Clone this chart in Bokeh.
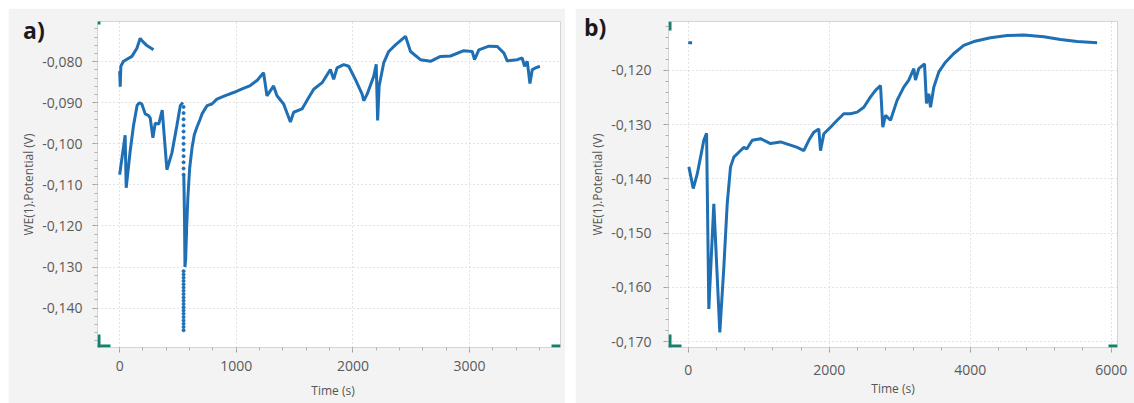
from bokeh.plotting import figure
from bokeh.layouts import row, column
from bokeh.models import SingleIntervalTicker, CustomJSTickFormatter, BoxAnnotation, Div
from bokeh.embed import file_html
from bokeh.resources import INLINE

# ---------------- data: panel a ----------------
a1_t = [0, 5, 10, 33, 105, 148, 176, 199, 227, 247, 290]
a1_v = [-0.0823, -0.0861, -0.0811, -0.0799, -0.0787, -0.0767, -0.0743, -0.0751, -0.0759, -0.0763, -0.0771]

a2_t = [0, 47, 56, 90, 119, 150, 170, 190, 219, 247, 262, 285, 305, 335, 365, 405, 448, 491, 520, 542]
a2_v = [-0.1075, -0.0979, -0.1107, -0.1018, -0.0955, -0.0906, -0.0900, -0.0903, -0.0927, -0.0931,
        -0.0937, -0.0985, -0.0950, -0.0952, -0.0918, -0.1063, -0.1022, -0.0955, -0.0907, -0.0899]

a_drop_t = [548] * 31
a_drop_v = [-0.0910, -0.0925, -0.0940, -0.0955, -0.0970, -0.0985, -0.1000, -0.1015, -0.1030, -0.1045,
            -0.1060, -0.1075, -0.1310, -0.1318, -0.1326, -0.1334, -0.1342, -0.1350, -0.1358, -0.1366,
            -0.1374, -0.1382, -0.1390, -0.1398, -0.1406, -0.1414, -0.1422, -0.1430, -0.1438, -0.1446, -0.1454]

a3_t = [550, 556, 560, 566, 575, 585, 600, 620, 640, 663, 690, 706, 749, 791, 834, 900, 977, 1050, 1120, 1180,
        1234, 1263, 1320, 1349, 1406, 1464, 1492, 1564, 1621, 1664, 1736, 1807, 1835, 1864, 1921, 1964, 2021,
        2079, 2093, 2122, 2179, 2200, 2212, 2225, 2264, 2307, 2365, 2451, 2494, 2579, 2665, 2751, 2837, 2951,
        3023, 3043, 3080, 3166, 3238, 3295, 3323, 3409, 3452, 3472, 3495, 3518, 3538, 3567, 3603]
a3_v = [-0.1075, -0.1180, -0.1300, -0.1280, -0.1200, -0.1130, -0.1060, -0.1011, -0.0978, -0.0959,
        -0.0940, -0.0927, -0.0907, -0.0903, -0.0891, -0.0883, -0.0875, -0.0866, -0.0858, -0.0845,
        -0.0827, -0.0883, -0.0859, -0.0883, -0.0903, -0.0947, -0.0923, -0.0915, -0.0887, -0.0867,
        -0.0851, -0.0819, -0.0843, -0.0815, -0.0807, -0.0811, -0.0843, -0.0879, -0.0895, -0.0879,
        -0.0835, -0.0806, -0.0943, -0.0859, -0.0803, -0.0775, -0.0759, -0.0738, -0.0775, -0.0795,
        -0.0799, -0.0787, -0.0786, -0.0773, -0.0775, -0.0795, -0.0771, -0.0762, -0.0763, -0.0779,
        -0.0798, -0.0795, -0.0791, -0.0811, -0.0799, -0.0853, -0.0819, -0.0815, -0.0811]

# ---------------- data: panel b ----------------
b1_t = [0, 55]
b1_v = [-0.1149, -0.1149]

b2_t = [9, 71, 128, 221, 260, 292, 363, 448, 505, 553, 600, 647, 718, 789, 830, 908, 1026, 1167, 1309, 1451,
        1546, 1640, 1711, 1782, 1852, 1877, 1924, 2018, 2113, 2207, 2302, 2397, 2491, 2586, 2657, 2728, 2760,
        2799, 2870, 2964, 3058, 3129, 3200, 3224, 3271, 3352, 3380, 3413, 3437, 3484, 3555, 3650, 3768, 3909,
        4051, 4288, 4525, 4761, 5045, 5281, 5518, 5801]
b2_v = [-0.1378, -0.1418, -0.1391, -0.1329, -0.1316, -0.1640, -0.1446, -0.1683, -0.1563, -0.1446,
        -0.1378, -0.1360, -0.1351, -0.1342, -0.1345, -0.1329, -0.1326, -0.1335, -0.1332, -0.1338,
        -0.1342, -0.1348, -0.1329, -0.1314, -0.1308, -0.1348, -0.1317, -0.1305, -0.1292, -0.1280,
        -0.1280, -0.1277, -0.1268, -0.1249, -0.1237, -0.1228, -0.1305, -0.1283, -0.1292, -0.1255,
        -0.1231, -0.1218, -0.1197, -0.1218, -0.1197, -0.1188, -0.1261, -0.1243, -0.1268, -0.1231,
        -0.1203, -0.1185, -0.1169, -0.1154, -0.1147, -0.1140, -0.1136, -0.1135, -0.1138, -0.1143,
        -0.1147, -0.1149]

panel_labels = ["a)", "b)"]
x_label = "Time (s)"
y_label = "WE(1).Potential (V)"

LINE = "#1f6fb4"
GREEN = "#17806d"
FONT = "Open Sans"

fmt = CustomJSTickFormatter(code="return tick.toFixed(3).replace('.', ',');")


def style(p, xint, yint, x_standoff, y_standoff):
    p.background_fill_color = "#ffffff"
    p.border_fill_color = "#f3f3f3"
    p.outline_line_color = "#d4d4d4"
    p.xaxis.ticker = SingleIntervalTicker(interval=xint, num_minor_ticks=5)
    p.yaxis.ticker = SingleIntervalTicker(interval=yint, num_minor_ticks=5)
    p.yaxis.formatter = fmt
    for ax in (p.xaxis[0], p.yaxis[0]):
        ax.axis_line_color = None
        ax.major_tick_in = 0
        ax.major_tick_out = 5
        ax.minor_tick_in = 0
        ax.minor_tick_out = 3
        ax.major_tick_line_color = "#9a9a9a"
        ax.minor_tick_line_color = "#b0b0b0"
        ax.major_label_text_font = FONT
        ax.major_label_text_font_size = "14px"
        ax.major_label_text_color = "#5a5a5a"
        ax.axis_label_text_font = FONT
        ax.axis_label_text_font_size = "12px"
        ax.axis_label_text_font_style = "normal"
        ax.axis_label_text_color = "#555555"
    p.yaxis.axis_label = y_label
    p.xaxis.major_label_standoff = x_standoff
    p.xaxis.axis_label_standoff = 2
    p.yaxis.major_label_standoff = y_standoff
    p.yaxis.axis_label_standoff = 2
    for g in (p.xgrid[0], p.ygrid[0]):
        g.grid_line_color = "#c9c9c9"
        g.grid_line_dash = "1 3"
        g.grid_line_width = 1


def markers(p, fw, fh):
    # teal range markers at the frame corners (screen units, frame relative)
    kw = dict(fill_color=GREEN, fill_alpha=1, line_color=None,
              left_units="screen", right_units="screen", top_units="screen", bottom_units="screen")
    p.add_layout(BoxAnnotation(left=0, right=3, bottom=fh - 9, top=fh, **kw))
    p.add_layout(BoxAnnotation(left=0, right=3, bottom=0, top=13, **kw))
    p.add_layout(BoxAnnotation(left=0, right=13, bottom=0, top=3, **kw))
    p.add_layout(BoxAnnotation(left=fw - 9, right=fw, bottom=0, top=3, **kw))


# ---------------- panel a ----------------
pa = figure(width=557, height=395, x_range=(-190, 3780), y_range=(-0.1496, -0.0702),
            output_backend="svg", toolbar_location=None,
            min_border_left=89, min_border_right=5, min_border_top=13, min_border_bottom=50)
style(pa, 1000, 0.01, 8, 10)
pa.line(a1_t, a1_v, line_color=LINE, line_width=3)
pa.line(a2_t, a2_v, line_color=LINE, line_width=3)
pa.scatter(a_drop_t, a_drop_v, size=3, color=LINE)
pa.line(a3_t, a3_v, line_color=LINE, line_width=3)
markers(pa, 463, 332)

# ---------------- panel b ----------------
pb = figure(width=559, height=395, x_range=(-280, 6090), y_range=(-0.1711, -0.1110),
            output_backend="svg", toolbar_location=None,
            min_border_left=93, min_border_right=17, min_border_top=13, min_border_bottom=56)
style(pb, 2000, 0.01, 12, 12)
pb.xaxis.axis_label = x_label
pb.line(b1_t, b1_v, line_color=LINE, line_width=3)
pb.line(b2_t, b2_v, line_color=LINE, line_width=3)
markers(pb, 449, 326)

# ---------------- panel letters and panel-a time label (HTML overlay, page coordinates) ----------------
letter = ("<span style=\"position:absolute; left:{l}px; top:{t}px; font-family:'Open Sans'; "
          "font-weight:bold; font-size:23px; line-height:1; color:#1a1a1a;\">{s}</span>")
axlab = ("<span style=\"position:absolute; left:{l}px; top:{t}px; width:120px; text-align:center; "
         "font-family:'Open Sans'; font-size:12px; line-height:1; color:#555555;\">{s}</span>")
overlay = Div(text=letter.format(l=18, t=14, s=panel_labels[0])
              + letter.format(l=579, t=11, s=panel_labels[1])
              + axlab.format(l=268, t=380, s=x_label),
              width=1134, height=403,
              styles={"position": "absolute", "left": "-8px", "top": "-8px", "z-index": "10",
                      "pointer-events": "none", "overflow": "hidden"})

layout = column(overlay, row(pa, pb, spacing=10), spacing=0, margin=(8, 0, 0, 8))
open("out.html", "w").write(file_html(layout, INLINE))
